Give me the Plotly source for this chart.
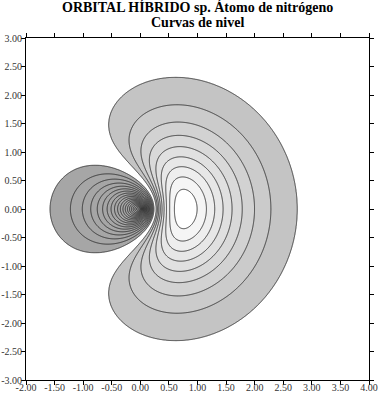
import numpy as np
import plotly.graph_objects as go

# Hybrid sp orbital of nitrogen (hydrogen-like 2s/2p, Slater effective charge)
Z_EFF = 3.9
X_RANGE = [-2.0, 4.0]
Y_RANGE = [-3.0, 3.0]

# contour levels (normalised psi)
NEG_LEVELS = [-1.05, -1.00, -0.95, -0.90, -0.85, -0.80, -0.75, -0.70, -0.65, -0.60,
              -0.55, -0.50, -0.45, -0.40, -0.35, -0.30, -0.25, -0.20, -0.15, -0.10, -0.05]
POS_LEVELS = [0.05, 0.10, 0.15, 0.20, 0.25, 0.30, 0.35, 0.40, 0.45]

X_TICKS = [-2.0, -1.5, -1.0, -0.5, 0.0, 0.5, 1.0, 1.5, 2.0, 2.5, 3.0, 3.5, 4.0]
Y_TICKS = [-3.0, -2.5, -2.0, -1.5, -1.0, -0.5, 0.0, 0.5, 1.0, 1.5, 2.0, 2.5, 3.0]

NEG_COLOR = "#a6a6a6"
POS_COLORS = ["#c4c4c4", "#cbcbcb", "#d2d2d2", "#d9d9d9", "#e0e0e0", "#e7e7e7", "#eeeeee", "#f5f5f5"]

TITLE1 = "ORBITAL HÍBRIDO sp. Átomo de nitrógeno"
TITLE2 = "Curvas de nivel"

# ---- field
x = np.linspace(X_RANGE[0], X_RANGE[1], 721)
y = np.linspace(Y_RANGE[0], Y_RANGE[1], 721)
X, Y = np.meshgrid(x, y)
R = np.sqrt(X**2 + Y**2)
N = Z_EFF**1.5 / (8 * np.sqrt(np.pi))
psi = N * (Z_EFF * R - 2 + Z_EFF * X) * np.exp(-Z_EFF * R / 2)

levels = np.array(NEG_LEVELS + POS_LEVELS)
nlev = len(levels)
idx = np.arange(nlev, dtype=float)
zt = np.interp(psi, levels, idx)
step = 0.05
low = psi < levels[0]
high = psi > levels[-1]
zt[low] = (psi[low] - levels[0]) / step
zt[high] = (nlev - 1) + (psi[high] - levels[-1]) / step

# band colours: band 0 below first level ... band nlev above last level
band_colors = [NEG_COLOR] * len(NEG_LEVELS) + ["#ffffff"] + POS_COLORS + ["#ffffff"]
nb = len(band_colors)  # nlev + 1
cs = []
for b, c in enumerate(band_colors):
    p0 = max(0.0, (b - 0.5) / (nb - 1))
    p1 = min(1.0, (b + 0.5) / (nb - 1))
    cs.append([p0, c])
    cs.append([p1, c])

fig = go.Figure()
fig.add_trace(go.Contour(
    x=x, y=y, z=zt,
    autocontour=False,
    contours=dict(start=0, end=nlev - 1, size=1, coloring="fill"),
    colorscale=cs,
    showscale=False,
    line=dict(color="#2a2a2a", width=0.9),
    hoverinfo="skip",
))

W, H = 378, 394
ml, mr, mt, mb = 26, 9, 38, 14
ph = H - mt - mb

def ypaper(py):
    return (H - mb - py) / ph

fig.add_annotation(text="<b>" + TITLE1 + "</b>", xref="paper", yref="paper",
                   x=0.5, y=ypaper(7.5), xanchor="center", yanchor="middle",
                   showarrow=False, font=dict(family="Liberation Serif", size=14, color="#000"))
fig.add_annotation(text="<b>" + TITLE2 + "</b>", xref="paper", yref="paper",
                   x=0.5, y=ypaper(22), xanchor="center", yanchor="middle",
                   showarrow=False, font=dict(family="Liberation Serif", size=14, color="#000"))

axis_common = dict(showgrid=False, zeroline=False, showline=True, linecolor="#000",
                   linewidth=1, mirror="ticks", ticks="outside", ticklen=4,
                   tickcolor="#000", tickwidth=1, automargin=False,
                   tickfont=dict(family="Liberation Serif", size=10, color="#333"))
fig.update_xaxes(range=X_RANGE, tickvals=X_TICKS, ticklabelstandoff=-6,
                 ticktext=["%.2f" % v for v in X_TICKS], **axis_common)
fig.update_yaxes(range=Y_RANGE, tickvals=Y_TICKS, ticklabelstandoff=-3,
                 ticktext=["%.2f" % v for v in Y_TICKS], **axis_common)

fig.update_layout(width=W, height=H, margin=dict(l=ml, r=mr, t=mt, b=mb, pad=0),
                  plot_bgcolor="#fff", paper_bgcolor="#fff", showlegend=False)

fig.write_html("out.html")
